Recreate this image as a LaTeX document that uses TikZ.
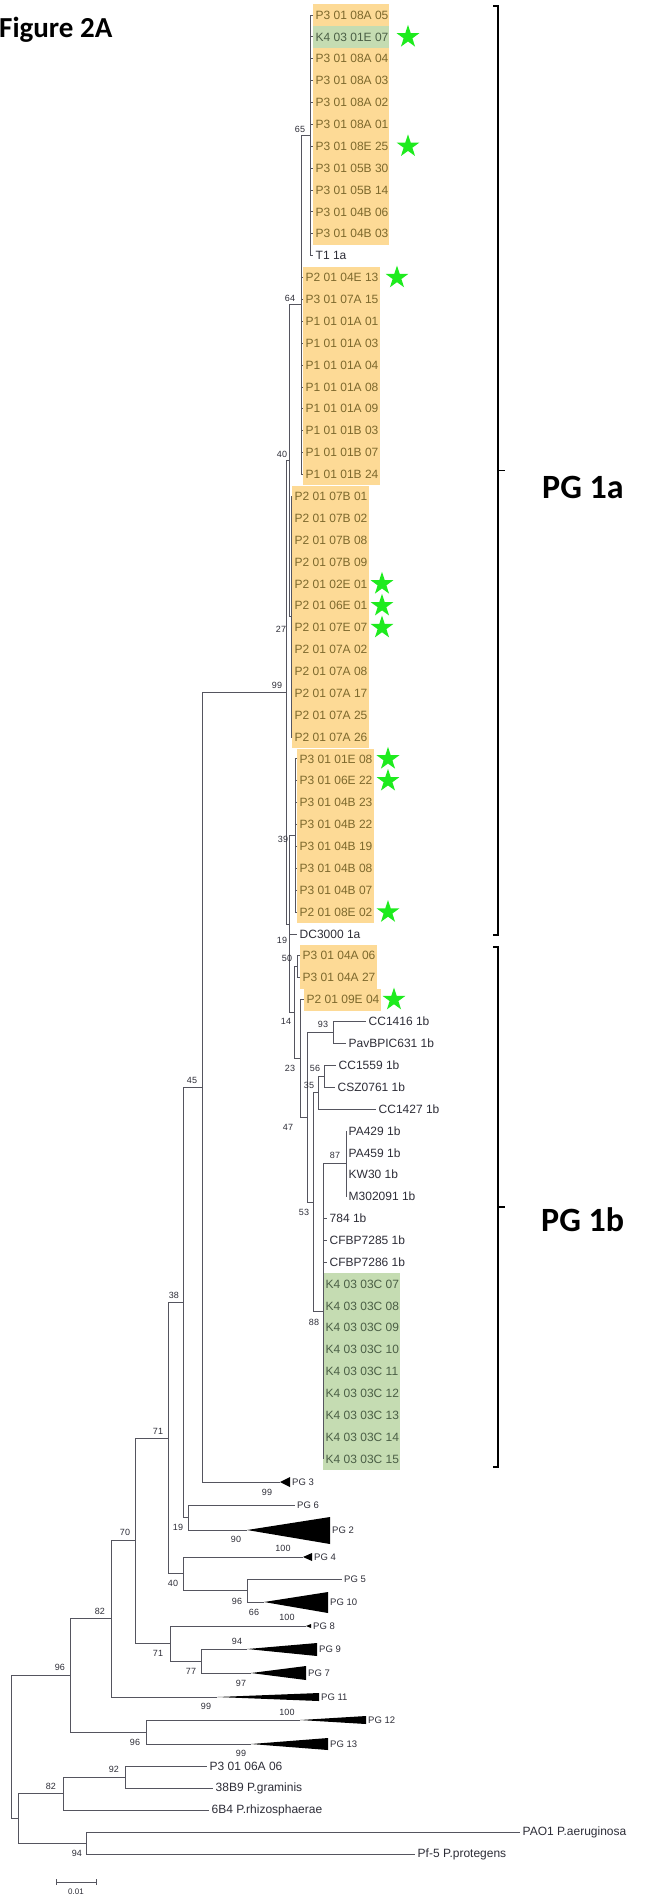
\documentclass[tikz,border=0pt]{standalone}
\usepackage{fontspec}
\setmainfont{Liberation Sans}
\newfontfamily\figfont{Carlito}
\usepackage{tikz}
\usetikzlibrary{shapes.geometric}

\definecolor{hlorange}{RGB}{253,218,150}
\definecolor{hlgreen}{RGB}{197,220,178}
\definecolor{hltext}{RGB}{125,105,45}
\definecolor{grtext}{RGB}{75,95,70}
\definecolor{leafgray}{RGB}{45,45,55}
\definecolor{treegray}{RGB}{85,85,95}
\definecolor{stargreen}{RGB}{30,235,30}

\tikzset{
  branch/.style={treegray, line width=0.9pt},
  leaf/.style={anchor=west, inner xsep=2.5pt, inner ysep=1pt, text=leafgray, font=\fontsize{12}{12}\selectfont},
  leafo/.style={leaf, text=hltext},
  leafg/.style={leaf, text=grtext},
  boot/.style={text=leafgray, inner sep=0pt, font=\fontsize{9}{9}\selectfont},
  pglab/.style={anchor=west, inner xsep=2pt, inner ysep=0.5pt, text=leafgray, font=\fontsize{9.5}{9.5}\selectfont},
  hlstar/.style={star, star points=5, star point ratio=2.6, fill=stargreen, inner sep=0pt, minimum size=24pt},
  bigtag/.style={anchor=west, inner sep=0pt, font=\figfont\bfseries\fontsize{34}{34}\selectfont},
  clade/.style={black, line width=1.2pt},
}

\begin{document}
\begin{tikzpicture}[x=1pt,y=-1pt]
\useasboundingbox (0,0) rectangle (662,1899);

\node[anchor=base west, inner sep=0pt, font=\figfont\bfseries\fontsize{29}{29}\selectfont] (fig) at (-1,37) {Figure 2A};

%highlight boxes
\fill[hlorange] (313,4.1) rectangle (389,25.6);
\fill[hlgreen] (313,26.3) rectangle (389,47.5);
\fill[hlorange] (313,48.3) rectangle (389,244.7);
\fill[hlorange] (303,266.6) rectangle (380,485.3);
\fill[hlorange] (292,485.9) rectangle (369,748.0);
\fill[hlorange] (297,748.5) rectangle (374,923.0);
\fill[hlorange] (300,945.0) rectangle (377,988.6);
\fill[hlorange] (304,989.3) rectangle (381,1010.5);
\fill[hlgreen] (323,1273.1) rectangle (400,1470.0);

%first group
\node[leafo] (r0) at (313,15.00) {P3 01 08A 05};
\node[leafg] (r1) at (313,36.88) {K4 03 01E 07};
\node[leafo] (r2) at (313,58.76) {P3 01 08A 04};
\node[leafo] (r3) at (313,80.64) {P3 01 08A 03};
\node[leafo] (r4) at (313,102.52) {P3 01 08A 02};
\node[leafo] (r5) at (313,124.40) {P3 01 08A 01};
\node[leafo] (r6) at (313,146.28) {P3 01 08E 25};
\node[leafo] (r7) at (313,168.16) {P3 01 05B 30};
\node[leafo] (r8) at (313,190.04) {P3 01 05B 14};
\node[leafo] (r9) at (313,211.92) {P3 01 04B 06};
\node[leafo] (r10) at (313,233.80) {P3 01 04B 03};
\node[leaf] (r11) at (313,255.68) {T1 1a};

%second group
\node[leafo] (r12) at (303,277.56) {P2 01 04E 13};
\node[leafo] (r13) at (303,299.44) {P3 01 07A 15};
\node[leafo] (r14) at (303,321.32) {P1 01 01A 01};
\node[leafo] (r15) at (303,343.20) {P1 01 01A 03};
\node[leafo] (r16) at (303,365.08) {P1 01 01A 04};
\node[leafo] (r17) at (303,386.96) {P1 01 01A 08};
\node[leafo] (r18) at (303,408.84) {P1 01 01A 09};
\node[leafo] (r19) at (303,430.72) {P1 01 01B 03};
\node[leafo] (r20) at (303,452.60) {P1 01 01B 07};
\node[leafo] (r21) at (303,474.48) {P1 01 01B 24};

%third group
\node[leafo] (r22) at (292,496.36) {P2 01 07B 01};
\node[leafo] (r23) at (292,518.24) {P2 01 07B 02};
\node[leafo] (r24) at (292,540.12) {P2 01 07B 08};
\node[leafo] (r25) at (292,562.00) {P2 01 07B 09};
\node[leafo] (r26) at (292,583.88) {P2 01 02E 01};
\node[leafo] (r27) at (292,605.76) {P2 01 06E 01};
\node[leafo] (r28) at (292,627.64) {P2 01 07E 07};
\node[leafo] (r29) at (292,649.52) {P2 01 07A 02};
\node[leafo] (r30) at (292,671.40) {P2 01 07A 08};
\node[leafo] (r31) at (292,693.28) {P2 01 07A 17};
\node[leafo] (r32) at (292,715.16) {P2 01 07A 25};
\node[leafo] (r33) at (292,737.04) {P2 01 07A 26};

%fourth group
\node[leafo] (r34) at (297,758.92) {P3 01 01E 08};
\node[leafo] (r35) at (297,780.80) {P3 01 06E 22};
\node[leafo] (r36) at (297,802.68) {P3 01 04B 23};
\node[leafo] (r37) at (297,824.56) {P3 01 04B 22};
\node[leafo] (r38) at (297,846.44) {P3 01 04B 19};
\node[leafo] (r39) at (297,868.32) {P3 01 04B 08};
\node[leafo] (r40) at (297,890.20) {P3 01 04B 07};
\node[leafo] (r41) at (297,912.08) {P2 01 08E 02};
\node[leaf] (r42) at (297,933.96) {DC3000 1a};

%1b rows
\node[leafo] (r43) at (300,955.84) {P3 01 04A 06};
\node[leafo] (r44) at (300,977.72) {P3 01 04A 27};
\node[leafo] (r45) at (304,999.60) {P2 01 09E 04};
\node[leaf] (r46) at (366,1021.48) {CC1416 1b};
\node[leaf] (r47) at (346,1043.36) {PavBPIC631 1b};
\node[leaf] (r48) at (336,1065.24) {CC1559 1b};
\node[leaf] (r49) at (335,1087.12) {CSZ0761 1b};
\node[leaf] (r50) at (376,1109.00) {CC1427 1b};
\node[leaf] (r51) at (346,1130.88) {PA429 1b};
\node[leaf] (r52) at (346,1152.76) {PA459 1b};
\node[leaf] (r53) at (346,1174.64) {KW30 1b};
\node[leaf] (r54) at (346,1196.52) {M302091 1b};
\node[leaf] (r55) at (327,1218.40) {784 1b};
\node[leaf] (r56) at (327,1240.28) {CFBP7285 1b};
\node[leaf] (r57) at (327,1262.16) {CFBP7286 1b};
\node[leafg] (r58) at (323,1284.04) {K4 03 03C 07};
\node[leafg] (r59) at (323,1305.92) {K4 03 03C 08};
\node[leafg] (r60) at (323,1327.80) {K4 03 03C 09};
\node[leafg] (r61) at (323,1349.68) {K4 03 03C 10};
\node[leafg] (r62) at (323,1371.56) {K4 03 03C 11};
\node[leafg] (r63) at (323,1393.44) {K4 03 03C 12};
\node[leafg] (r64) at (323,1415.32) {K4 03 03C 13};
\node[leafg] (r65) at (323,1437.20) {K4 03 03C 14};
\node[leafg] (r66) at (323,1459.08) {K4 03 03C 15};

%collapsed groups
\coordinate (pg3) at (280,1482);
\coordinate (pg2) at (247,1530);
\coordinate (pg4) at (303,1557);
\coordinate (pg10) at (264,1602);
\coordinate (pg8) at (306,1626);
\coordinate (pg9) at (247,1649);
\coordinate (pg7) at (251,1673);
\coordinate (pg11) at (217,1697);
\coordinate (pg12) at (300,1720);
\coordinate (pg13) at (251,1744);
\fill (pg3) -- (290,1477) -- (290,1487) -- cycle;
\fill (pg2) -- (330,1517) -- (330,1544) -- cycle;
\fill (pg4) -- (312,1553) -- (312,1561) -- cycle;
\fill (pg10) -- (328,1592) -- (328,1613) -- cycle;
\fill (pg8) -- (311,1624) -- (311,1628) -- cycle;
\fill (pg9) -- (317,1643) -- (317,1656) -- cycle;
\fill (pg7) -- (306,1666) -- (306,1680) -- cycle;
\fill (pg11) -- (319,1693) -- (319,1701) -- cycle;
\fill (pg12) -- (366,1716) -- (366,1724) -- cycle;
\fill (pg13) -- (328,1738) -- (328,1750) -- cycle;
\node[pglab] (pg3t) at (290,1482) {PG 3};
\node[pglab] (pg6) at (295,1505) {PG 6};
\node[pglab] (pg2t) at (330,1530) {PG 2};
\node[pglab] (pg4t) at (312,1557) {PG 4};
\node[pglab] (pg5) at (342,1579) {PG 5};
\node[pglab] (pg10t) at (328,1602) {PG 10};
\node[pglab] (pg8t) at (311,1626) {PG 8};
\node[pglab] (pg9t) at (317,1649) {PG 9};
\node[pglab] (pg7t) at (306,1673) {PG 7};
\node[pglab] (pg11t) at (319,1697) {PG 11};
\node[pglab] (pg12t) at (366,1720) {PG 12};
\node[pglab] (pg13t) at (328,1744) {PG 13};

%outgroups
\node[leaf] (o1) at (207,1766) {P3 01 06A 06};
\node[leaf] (o2) at (213,1788) {38B9 P.graminis};
\node[leaf] (o3) at (209,1810) {6B4 P.rhizosphaerae};
\node[leaf] (o4) at (520,1832) {PAO1 P.aeruginosa};
\node[leaf] (o5) at (415,1854) {Pf-5 P.protegens};

%inner nodes
\coordinate (n65) at (310,135.34);
\coordinate (n64) at (301,304.91);
\coordinate (n27) at (291,616.70);
\coordinate (n40) at (289,460.81);
\coordinate (n39) at (295,835.50);
\coordinate (n50) at (297,966.78);
\coordinate (n93) at (333,1032.42);
\coordinate (n56) at (324,1076.18);
\coordinate (n35) at (318,1092.59);
\coordinate (n87) at (346,1163.70);
\coordinate (n88) at (323,1311.39);
\coordinate (n53) at (313,1201.99);
\coordinate (n47) at (307,1117.21);
\coordinate (n23) at (300,1058.40);
\coordinate (n14) at (294,1012.59);
\coordinate (n19) at (289,924.05);
\coordinate (n99) at (286,692.43);
\coordinate (n45) at (202,1087.2);
\coordinate (n38) at (183,1302.35);
\coordinate (n19b) at (188,1517.5);
\coordinate (n40b) at (183,1573.75);
\coordinate (n96c) at (247,1590.5);
\coordinate (n71) at (168,1438.05);
\coordinate (n77) at (201,1661);
\coordinate (n71b) at (170,1643.5);
\coordinate (n70) at (135,1540.78);
\coordinate (n82) at (111,1618.89);
\coordinate (n96b) at (146,1732);
\coordinate (n96a) at (70,1675.45);
\coordinate (n92) at (125,1777);
\coordinate (n82b) at (63,1793.5);
\coordinate (n94) at (86,1843);
\coordinate (nout) at (18,1818.25);
\coordinate (root) at (11,1746.85);

%branches 1a
\draw[branch] (n65) |- (r0.west) (n65) |- (r1.west) (n65) |- (r2.west) (n65) |- (r3.west)
  (n65) |- (r4.west) (n65) |- (r5.west) (n65) |- (r6.west) (n65) |- (r7.west)
  (n65) |- (r8.west) (n65) |- (r9.west) (n65) |- (r10.west) (n65) |- (r11.west);
\draw[branch] (n64) |- (n65) (n64) |- (r12.west) (n64) |- (r13.west) (n64) |- (r14.west)
  (n64) |- (r15.west) (n64) |- (r16.west) (n64) |- (r17.west) (n64) |- (r18.west)
  (n64) |- (r19.west) (n64) |- (r20.west) (n64) |- (r21.west);
\draw[branch] (n27) |- (r22.west) (n27) |- (r23.west) (n27) |- (r24.west) (n27) |- (r25.west)
  (n27) |- (r26.west) (n27) |- (r27.west) (n27) |- (r28.west) (n27) |- (r29.west)
  (n27) |- (r30.west) (n27) |- (r31.west) (n27) |- (r32.west) (n27) |- (r33.west);
\draw[branch] (n40) |- (n64) (n40) |- (n27);
\draw[branch] (n39) |- (r34.west) (n39) |- (r35.west) (n39) |- (r36.west) (n39) |- (r37.west)
  (n39) |- (r38.west) (n39) |- (r39.west) (n39) |- (r40.west) (n39) |- (r41.west);
\draw[branch] (n19) |- (n39) (n19) |- (r42.west) (n19) |- (n14);
\draw[branch] (n99) |- (n40) (n99) |- (n19);

%branches 1b
\draw[branch] (n50) |- (r43.west) (n50) |- (r44.west);
\draw[branch] (n14) |- (n50) (n14) |- (n23);
\draw[branch] (n23) |- (r45.west) (n23) |- (n47);
\draw[branch] (n47) |- (n93) (n47) |- (n53);
\draw[branch] (n93) |- (r46.west) (n93) |- (r47.west);
\draw[branch] (n53) |- (n35) (n53) |- (n88);
\draw[branch] (n35) |- (n56) (n35) |- (r50.west);
\draw[branch] (n56) |- (r48.west) (n56) |- (r49.west);
\draw[branch] (n87) |- (r51.west) (n87) |- (r52.west) (n87) |- (r53.west) (n87) |- (r54.west);
\draw[branch] (n88) |- (n87) (n88) |- (r55.west) (n88) |- (r56.west) (n88) |- (r57.west)
  (n88) |- (r58.west) (n88) |- (r59.west) (n88) |- (r60.west) (n88) |- (r61.west)
  (n88) |- (r62.west) (n88) |- (r63.west) (n88) |- (r64.west) (n88) |- (r65.west) (n88) |- (r66.west);

%branches lower part
\draw[branch] (n45) |- (n99) (n45) |- (pg3);
\draw[branch] (n38) |- (n45) (n38) |- (n19b);
\draw[branch] (n19b) |- (pg6.west) (n19b) |- (pg2);
\draw[branch] (n71) |- (n38) (n71) |- (n40b);
\draw[branch] (n40b) |- (pg4) (n40b) |- (n96c);
\draw[branch] (n96c) |- (pg5.west) (n96c) |- (pg10);
\draw[branch] (n70) |- (n71) (n70) |- (n71b);
\draw[branch] (n71b) |- (pg8) (n71b) |- (n77);
\draw[branch] (n77) |- (pg9) (n77) |- (pg7);
\draw[branch] (n82) |- (n70) (n82) |- (pg11);
\draw[branch] (n96a) |- (n82) (n96a) |- (n96b);
\draw[branch] (n96b) |- (pg12) (n96b) |- (pg13);
\draw[branch] (n92) |- (o1.west) (n92) |- (o2.west);
\draw[branch] (n82b) |- (n92) (n82b) |- (o3.west);
\draw[branch] (n94) |- (o4.west) (n94) |- (o5.west);
\draw[branch] (nout) |- (n82b) (nout) |- (n94);
\draw[branch] (root) |- (n96a) (root) |- (nout);

%bootstrap values
\node[boot] (b65) at (300,129) {65};
\node[boot] (b64) at (290,298) {64};
\node[boot] (b40) at (282,454) {40};
\node[boot] (b27) at (281,629) {27};
\node[boot] (b99) at (277,685) {99};
\node[boot] (b39) at (283,839) {39};
\node[boot] (b19) at (282,940) {19};
\node[boot] (b50) at (287,958) {50};
\node[boot] (b14) at (286,1021) {14};
\node[boot] (b93) at (323,1024) {93};
\node[boot] (b23) at (290,1068) {23};
\node[boot] (b56) at (315,1068) {56};
\node[boot] (b35) at (309,1085) {35};
\node[boot] (b47) at (288,1127) {47};
\node[boot] (b87) at (335,1155) {87};
\node[boot] (b53) at (304,1212) {53};
\node[boot] (b88) at (314,1322) {88};
\node[boot] (b45) at (192,1080) {45};
\node[boot] (b38) at (174,1295) {38};
\node[boot] (b71) at (158,1431) {71};
\node[boot] (b99c) at (267,1492) {99};
\node[boot] (b19b) at (178,1527) {19};
\node[boot] (b90) at (236,1539) {90};
\node[boot] (b100a) at (283,1548) {100};
\node[boot] (b70) at (125,1532) {70};
\node[boot] (b40b) at (173,1583) {40};
\node[boot] (b96c) at (237,1601) {96};
\node[boot] (b66) at (254,1612) {66};
\node[boot] (b100b) at (287,1617) {100};
\node[boot] (b82) at (100,1611) {82};
\node[boot] (b94) at (237,1641) {94};
\node[boot] (b71b) at (158,1653) {71};
\node[boot] (b77) at (191,1671) {77};
\node[boot] (b97) at (241,1683) {97};
\node[boot] (b96a) at (60,1667) {96};
\node[boot] (b99d) at (206,1706) {99};
\node[boot] (b100c) at (287,1712) {100};
\node[boot] (b96b) at (135,1742) {96};
\node[boot] (b99e) at (241,1753) {99};
\node[boot] (b92) at (114,1769) {92};
\node[boot] (b82b) at (51,1786) {82};
\node[boot] (b94b) at (77,1853) {94};

%stars
\node[hlstar] (s1) at (408,36.88) {};
\node[hlstar] (s6) at (408,146.28) {};
\node[hlstar] (s12) at (397,277.56) {};
\node[hlstar] (s26) at (382,583.88) {};
\node[hlstar] (s27) at (382,605.76) {};
\node[hlstar] (s28) at (382,627.64) {};
\node[hlstar] (s34) at (388,758.92) {};
\node[hlstar] (s35) at (388,780.80) {};
\node[hlstar] (s41) at (388,912.08) {};
\node[hlstar] (s45) at (394,999.60) {};

%brackets
\draw[clade] (493,6) -- (498,6) -- (498,935) -- (493,935);
\draw[clade] (498,470.5) -- (505,470.5);
\draw[clade] (493,947) -- (498,947) -- (498,1467) -- (493,1467);
\draw[clade] (498,1207) -- (505,1207);
\node[bigtag] (pg1a) at (542,487) {PG 1a};
\node[bigtag] (pg1b) at (541,1220) {PG 1b};

%scale
\draw[branch] (56,1879) -- (56,1885) (56,1882) -- (96,1882) (96,1879) -- (96,1885);
\node[boot, font=\fontsize{8}{8}\selectfont] (sc) at (76,1892) {0.01};

\end{tikzpicture}
\end{document}
